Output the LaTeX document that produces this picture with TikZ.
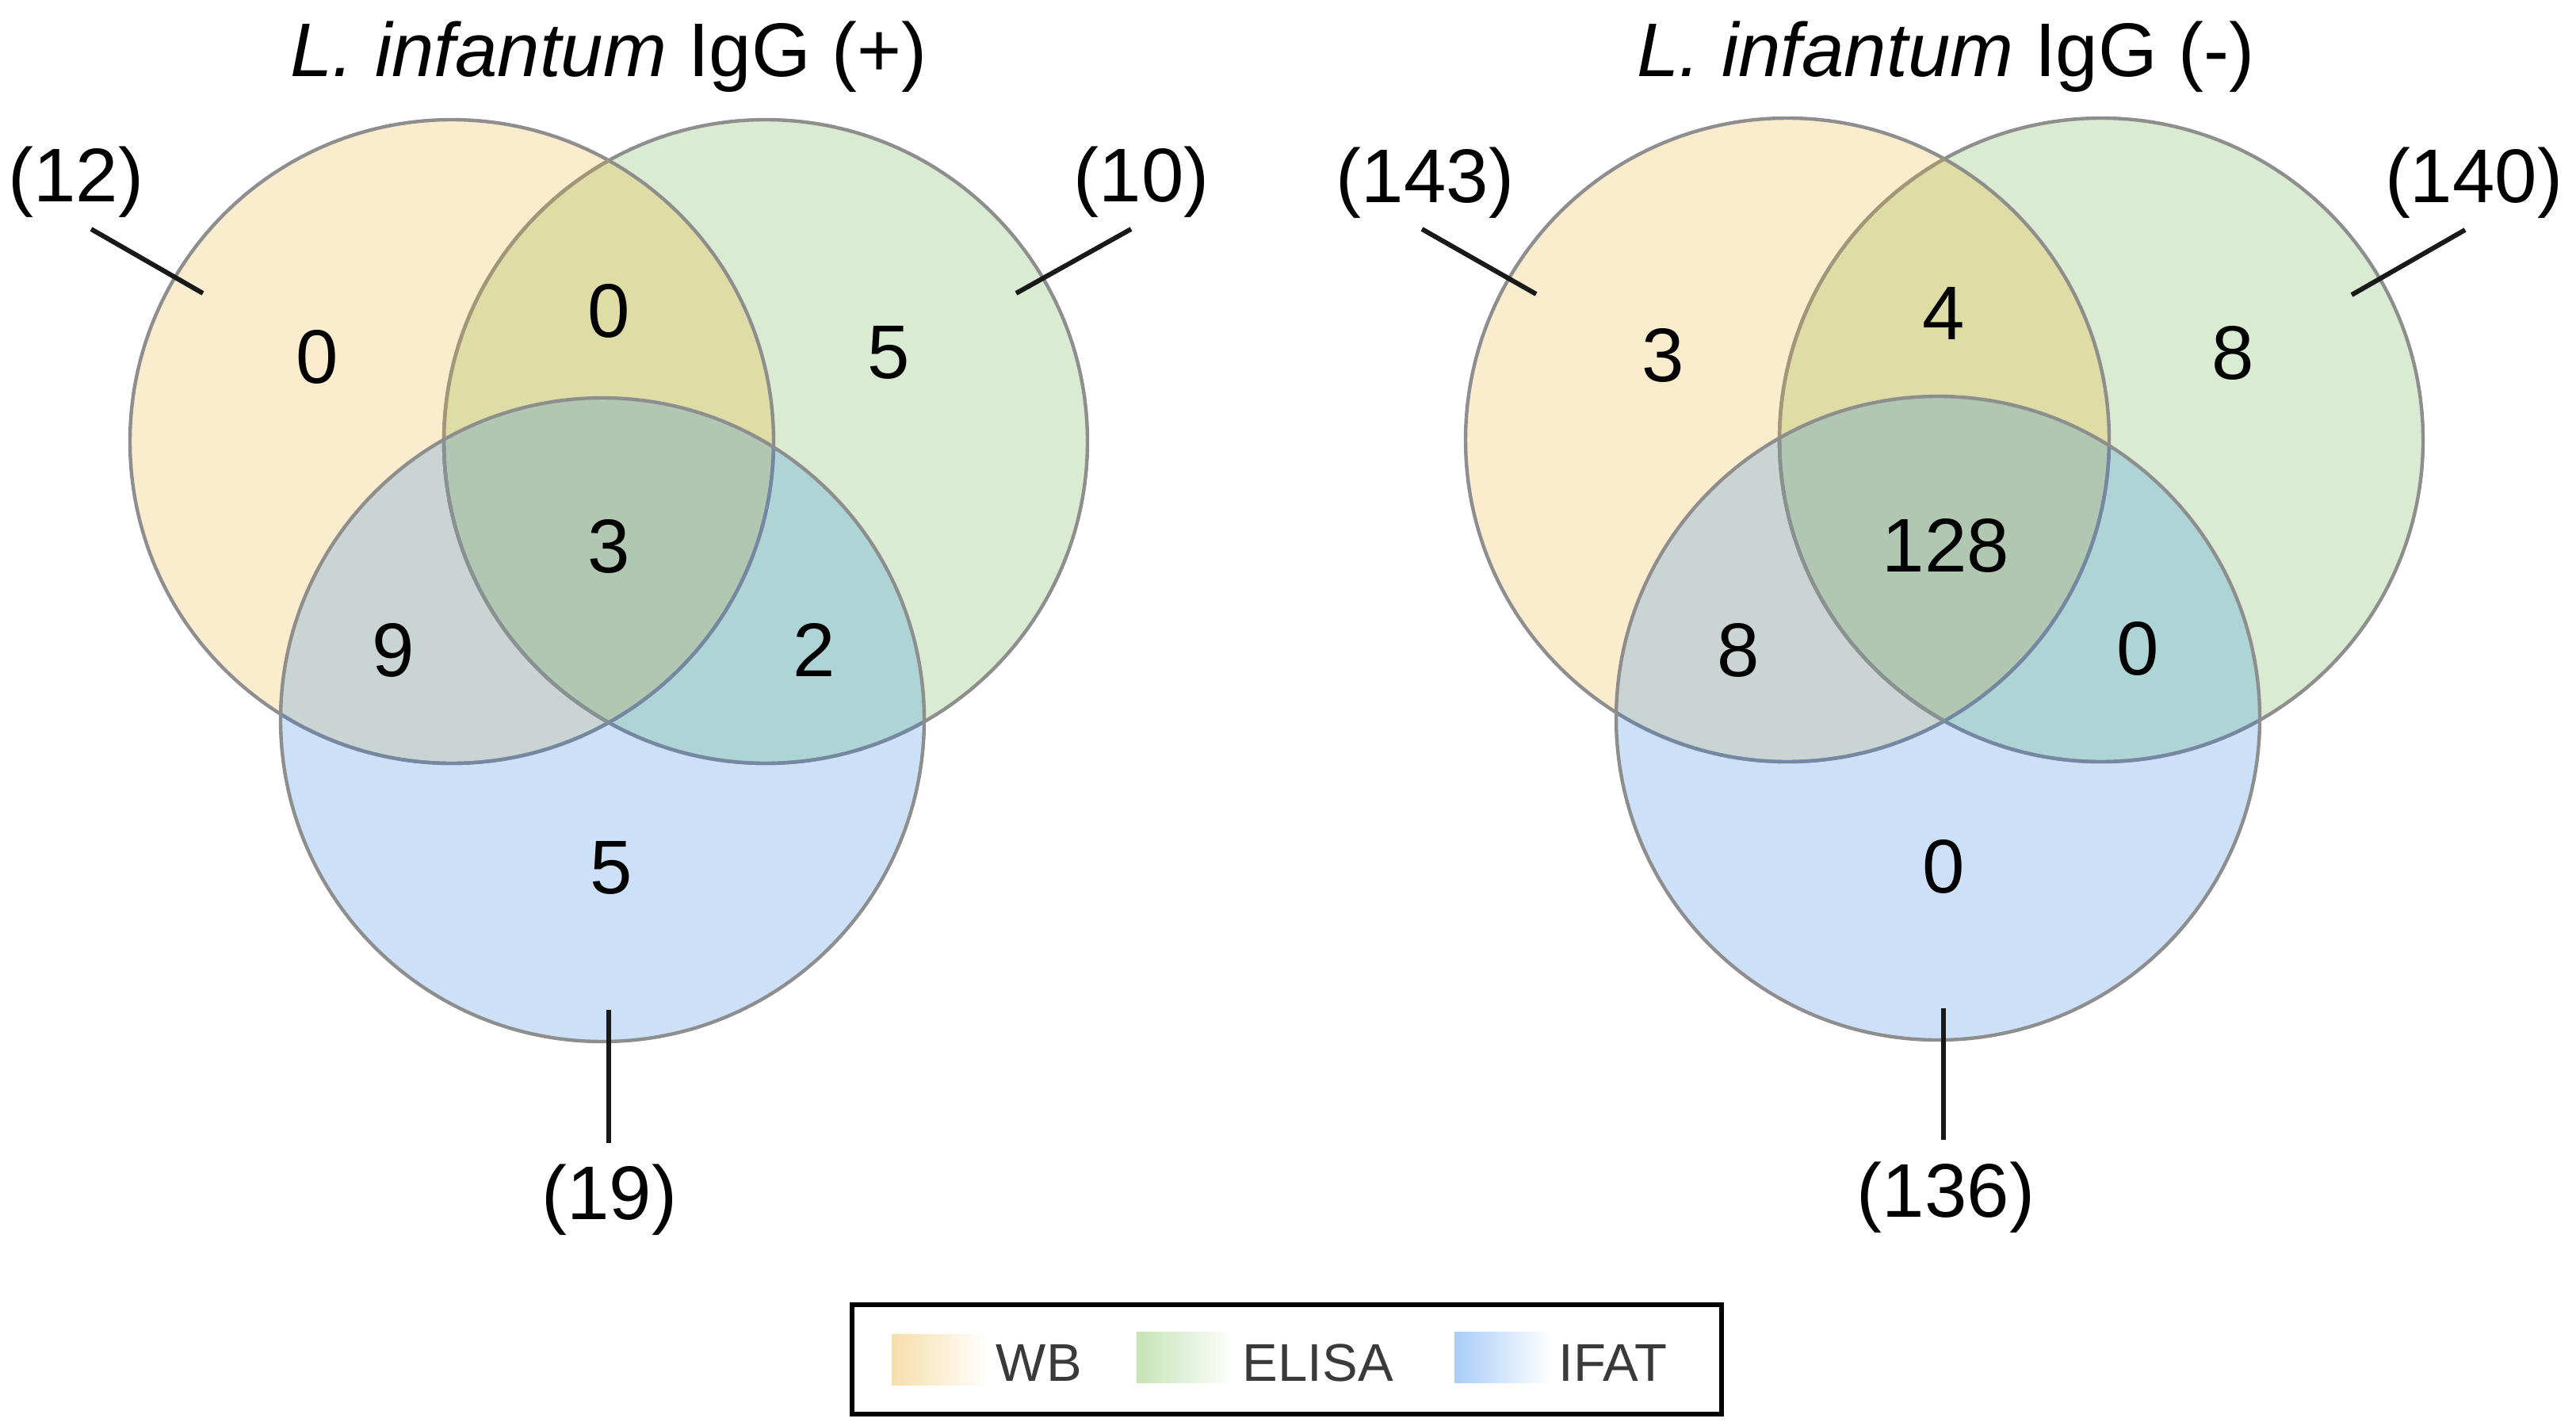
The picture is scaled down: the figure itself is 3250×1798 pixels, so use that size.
\documentclass[tikz,border=0pt]{standalone}
\usepackage{fontspec}
\setmainfont{Liberation Sans}
\definecolor{wbC}{HTML}{FBECCE}
\definecolor{elC}{HTML}{D9EBD0}
\definecolor{ifC}{HTML}{CCE1F7}
\definecolor{wbelC}{HTML}{DEDDA5}
\definecolor{wbifC}{HTML}{CAD5D3}
\definecolor{elifC}{HTML}{AED4D5}
\definecolor{allC}{HTML}{B0C7B2}
\definecolor{vgray}{HTML}{8E8E8E}
\definecolor{tintBrown}{HTML}{A3977A}
\definecolor{tintBlue}{HTML}{7488A4}
\definecolor{tintTeal}{HTML}{899191}
\definecolor{wbS}{HTML}{F6DEAA}
\definecolor{elS}{HTML}{C5E3B5}
\definecolor{ifS}{HTML}{A8CCF8}
\definecolor{legtxt}{HTML}{3A3A3A}
\begin{document}
\begin{tikzpicture}[x=0.25pt,y=-0.25pt,
  vennring/.style={draw=vgray, line width=1.1pt, circle, minimum size=203pt, inner sep=0pt, outer sep=0pt},
  tint/.style={line width=1.1pt},
  num/.style={font=\fontsize{24}{28}\selectfont, inner sep=0pt, text=black},
  lab/.style={font=\fontsize{24}{28}\selectfont, inner sep=0pt, anchor=base, text=black},
  ttl/.style={font=\fontsize{24}{28}\selectfont, inner sep=0pt, anchor=base, text=black},
  leader/.style={draw=black!90, line width=1.5pt},
  legtext/.style={font=\fontsize{16.75}{20}\selectfont, inner sep=0pt, anchor=base west, text=legtxt},
  swatch/.style={inner sep=0pt, outer sep=0pt, anchor=north west, minimum width=30.5pt, minimum height=16pt}]
\useasboundingbox (0,0) rectangle (3250,1798);
% ---- two Venn diagrams ----
\foreach \dx/\dy/\s in {0/0/L, 1685/-2/R}{
  \begin{scope}[shift={(\dx,\dy)}]
    \fill[wbC] (570,557) circle[radius=406];
    \fill[elC] (966,557) circle[radius=406];
    \fill[ifC] (760,908) circle[radius=406];
    \begin{scope}
      \clip (570,557) circle[radius=406];
      \fill[wbelC] (966,557) circle[radius=406];
      \fill[wbifC] (760,908) circle[radius=406];
    \end{scope}
    \begin{scope}
      \clip (966,557) circle[radius=406];
      \fill[elifC] (760,908) circle[radius=406];
    \end{scope}
    \begin{scope}
      \clip (570,557) circle[radius=406];
      \clip (966,557) circle[radius=406];
      \fill[allC] (760,908) circle[radius=406];
    \end{scope}
    \node[vennring] (el\s) at (966,557) {};
    \node[vennring] (wb\s) at (570,557) {};
    % outline tints where the rings lie under other fills
    \begin{scope}
      \clip (570,557) circle[radius=406];
      \begin{scope}[even odd rule]
        \clip (-100,-100) rectangle (1800,1500) (760,908) circle[radius=406];
        \draw[tint, tintBrown] (966,557) circle[radius=406];
      \end{scope}
    \end{scope}
    \begin{scope}
      \clip (760,908) circle[radius=406];
      \draw[tint, tintBlue] (570,557) circle[radius=406];
      \draw[tint, tintBlue] (966,557) circle[radius=406];
    \end{scope}
    \begin{scope}
      \clip (760,908) circle[radius=406];
      \clip (570,557) circle[radius=406];
      \draw[tint, tintTeal] (966,557) circle[radius=406];
    \end{scope}
    \node[vennring] (if\s) at (760,908) {};
  \end{scope}
}
% ---- titles ----
\node[ttl] (titleL) at (768,97) {\textit{L. infantum} IgG (+)};
\node[ttl] (titleR) at (2455,97) {\textit{L. infantum} IgG (-)};
% ---- left region counts ----
\node[num] (l1) at (400,450) {0};
\node[num] (l2) at (768,392) {0};
\node[num] (l3) at (1121,445) {5};
\node[num] (l4) at (768,689) {3};
\node[num] (l5) at (496,820) {9};
\node[num] (l6) at (1027,820) {2};
\node[num] (l7) at (771,1095) {5};
% ---- right region counts ----
\node[num] (r1) at (2098,448) {3};
\node[num] (r2) at (2452,395) {4};
\node[num] (r3) at (2817,445) {8};
\node[num] (r4) at (2455,688) {128};
\node[num] (r5) at (2193,820) {8};
\node[num] (r6) at (2697,818) {0};
\node[num] (r7) at (2452,1093) {0};
% ---- totals with leaders ----
\node[lab] (tWBL) at (96,254) {(12)};
\node[lab] (tELL) at (1440,254) {(10)};
\node[lab] (tIFL) at (769,1538) {(19)};
\node[lab] (tWBR) at (1798,255) {(143)};
\node[lab] (tELR) at (3121,255) {(140)};
\node[lab] (tIFR) at (2455,1535) {(136)};
\coordinate (aWBL1) at (115,289);  \coordinate (aWBL2) at (256,370);
\coordinate (aELL1) at (1427,289); \coordinate (aELL2) at (1282,370);
\coordinate (aIFL1) at (768,1274); \coordinate (aIFL2) at (768,1442);
\coordinate (aWBR1) at (1794,289); \coordinate (aWBR2) at (1938,371);
\coordinate (aELR1) at (3110,290); \coordinate (aELR2) at (2967,372);
\coordinate (aIFR1) at (2452,1272); \coordinate (aIFR2) at (2452,1438);
\draw[leader] (aWBL1) -- (aWBL2);
\draw[leader] (aELL1) -- (aELL2);
\draw[leader] (aIFL1) -- (aIFL2);
\draw[leader] (aWBR1) -- (aWBR2);
\draw[leader] (aELR1) -- (aELR2);
\draw[leader] (aIFR1) -- (aIFR2);
% ---- legend ----
\node[draw=black, line width=1.4pt, inner sep=0pt, outer sep=0pt, anchor=north west,
      minimum width=274.25pt, minimum height=34.5pt] (legend) at (1075,1646) {};
\node[swatch, left color=wbS, right color=white] (swWB) at (1125,1683) {};
\node[swatch, left color=elS, right color=white] (swEL) at (1434,1680) {};
\node[swatch, left color=ifS, right color=white] (swIF) at (1835,1680) {};
\node[legtext] (ltWB) at (1256,1742) {WB};
\node[legtext] (ltEL) at (1567,1742) {ELISA};
\node[legtext] (ltIF) at (1966,1742) {IFAT};
\end{tikzpicture}
\end{document}
